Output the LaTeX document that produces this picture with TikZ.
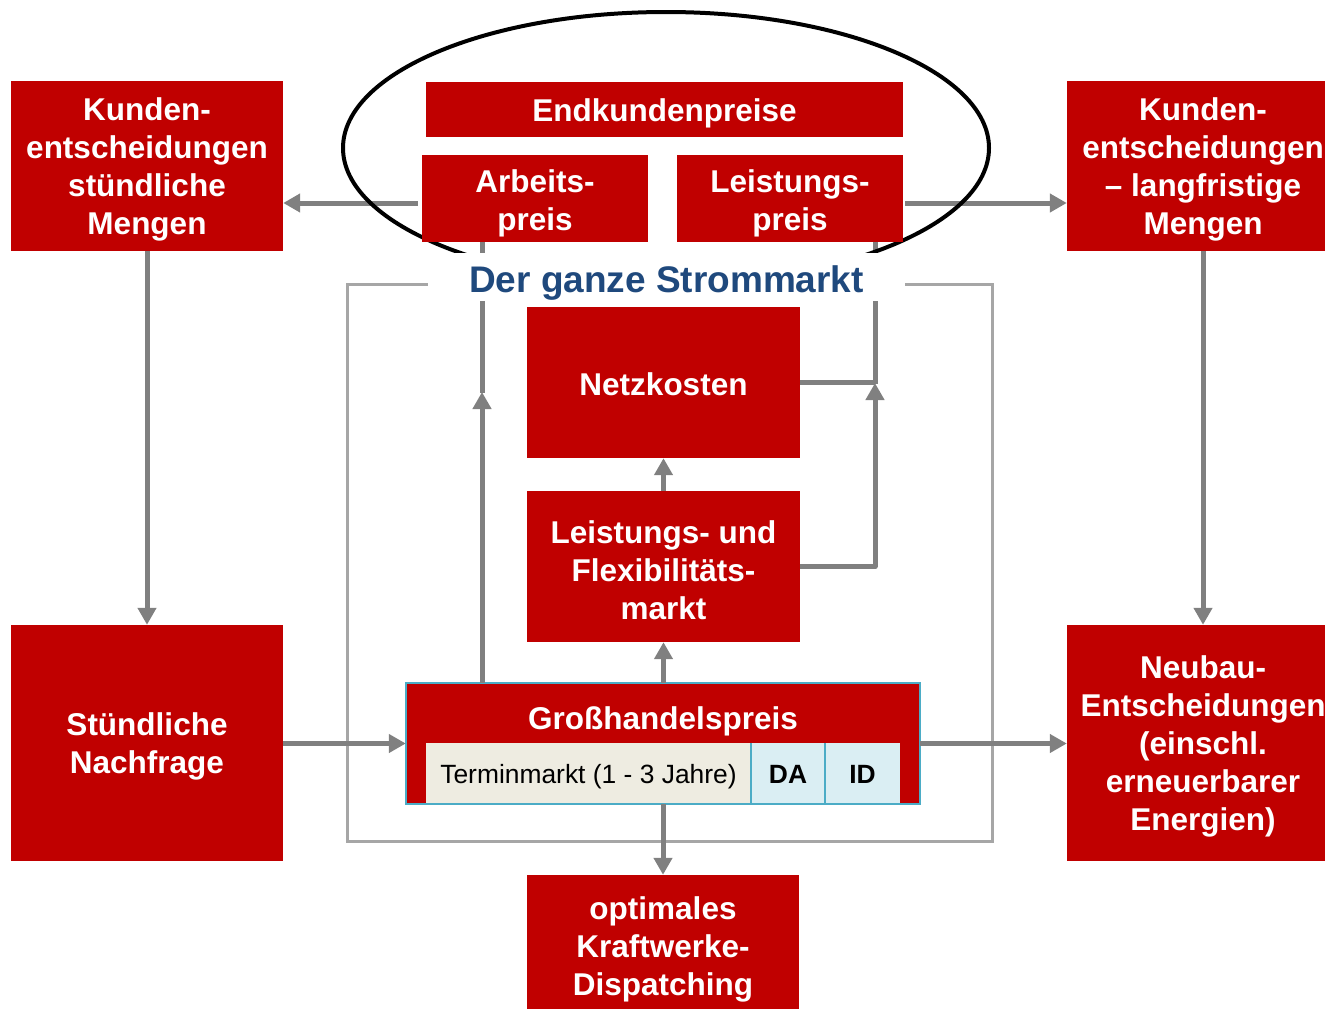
\documentclass[tikz,border=0pt]{standalone}
\usepackage{fontspec}
\setmainfont{Liberation Sans}
\usetikzlibrary{arrows.meta}
\definecolor{boxred}{HTML}{C00000}
\definecolor{arrgray}{HTML}{808080}
\definecolor{rectgray}{HTML}{A6A6A6}
\definecolor{cellblue}{HTML}{DAEEF3}
\definecolor{cellbeige}{HTML}{EEECE1}
\definecolor{bordblue}{HTML}{4BACC6}
\definecolor{titleblue}{HTML}{1F497D}
\tikzset{
  redbox/.style={fill=boxred, inner sep=0pt},
  btxt/.style={text=white, align=center, inner sep=0pt, yshift=-3.5pt,
    font=\fontsize{31.5}{38}\selectfont\bfseries},
  conn/.style={draw=arrgray, line width=5pt},
  arr/.style={conn, -{Triangle[length=17pt,width=18pt]}},
  cell/.style={inner sep=0pt, text=black, text height=19pt, text depth=0pt,
    font=\fontsize{26.4}{30}\selectfont},
}
\begin{document}
\begin{tikzpicture}[x=1pt,y=-1pt]
\useasboundingbox (0,0) rectangle (1325,1009);
\clip (0,0) rectangle (1325,1009);
\fill[white] (0,0) rectangle (1325,1009);

% light gray frame
\draw[rectgray, line width=3pt] (347,284) rectangle (992,841);

% nodes
\node[redbox, minimum width=272pt, minimum height=170pt,
  label={[btxt]center:Kunden-\\entscheidungen\\stündliche\\Mengen}] (kl) at (147,166) {};
\node[redbox, minimum width=272pt, minimum height=170pt,
  label={[btxt]center:Kunden-\\entscheidungen\\– langfristige\\Mengen}] (kr) at (1203,166) {};
\node[redbox, minimum width=272pt, minimum height=236pt,
  label={[btxt]center:Stündliche\\Nachfrage}] (sn) at (147,743) {};
\node[redbox, minimum width=272pt, minimum height=236pt,
  label={[btxt]center:Neubau-\\Entscheidungen\\(einschl.\\erneuerbarer\\Energien)}] (neu) at (1203,743) {};
\node[redbox, minimum width=273pt, minimum height=151pt,
  label={[btxt, yshift=1.5pt]center:Netzkosten}] (netz) at (663.5,382.5) {};
\node[redbox, minimum width=273pt, minimum height=151pt,
  label={[btxt]center:Leistungs- und\\Flexibilitäts-\\markt}] (lf) at (663.5,566.5) {};
\node[redbox, minimum width=272pt, minimum height=142pt,
  label={[btxt]center:optimales\\Kraftwerke-\\Dispatching}] (opt) at (663,946) {};

% Großhandelspreis box
\node[fill=boxred, inner sep=0pt, minimum width=514pt, minimum height=121pt] (gh) at (663,743.5) {};
\node[text=white, inner sep=0pt, font=\fontsize{31.5}{38}\selectfont\bfseries, anchor=base] (ght) at (663,729) {Großhandelspreis};
\node[cell, fill=cellbeige, minimum width=325pt, minimum height=61pt] (tm) at (588.5,773.5) {Terminmarkt (1 - 3 Jahre)};
\node[cell, fill=cellblue, minimum width=74pt, minimum height=61pt, font=\fontsize{26.4}{30}\selectfont\bfseries] (da) at (788,773.5) {DA};
\node[cell, fill=cellblue, minimum width=75pt, minimum height=61pt, font=\fontsize{26.4}{30}\selectfont\bfseries] (id) at (862.5,773.5) {ID};
\draw[bordblue, line width=2pt] (tm.north east) -- (tm.south east);
\draw[bordblue, line width=2pt] (da.north east) -- (da.south east);
\draw[bordblue, line width=2pt] (gh.south west) rectangle (gh.north east);

% connectors
\draw[arr] (kl.south) -- (sn.north);
\draw[arr] (kr.south) -- (neu.north);
\draw[arr] (sn.east |- gh.west) -- (gh.west);
\draw[arr] (gh.east) -- (neu.west |- gh.east);
\draw[arr] (gh.north -| lf.south) -- (lf.south);
\draw[arr] (lf.north) -- (netz.south);
\draw[arr] (gh.south -| opt.north) -- (opt.north);

% top boxes (named placeholders for anchors)
\coordinate (endkc) at (664.5,109.5);
\coordinate (arbc) at (535,198.5);
\coordinate (leisc) at (790,198.5);
\path (arbc) node[minimum width=226pt, minimum height=87pt, inner sep=0pt] (arb) {};
\path (leisc) node[minimum width=226pt, minimum height=87pt, inner sep=0pt] (leis) {};

\draw[arr] ([xshift=-4pt]arb.west |- 0,203) -- (kl.east |- 0,203);
\draw[arr] ([xshift=2pt]leis.east |- 0,203) -- (kr.west |- 0,203);

\coordinate (la) at (482,392);
\draw[arr] (gh.north -| la) -- (la);
\draw[conn] ([yshift=-1pt]la) -- (arb.south -| la);

\coordinate (ra) at (875,383);
\draw[arr, line join=round] (lf.east) -- (lf.east -| ra) -- (ra);
\draw[conn] ([yshift=-1pt]ra) -- (leis.south -| ra);
\draw[conn] (netz.east) -- (netz.east -| ra);

% ellipse
\draw[black, line width=4pt] (666,148) ellipse [x radius=323pt, y radius=136pt];

% top boxes over ellipse
\node[redbox, minimum width=477pt, minimum height=55pt,
  label={[btxt, yshift=-0.5pt]center:Endkundenpreise}] (endk) at (endkc) {};
\node[redbox, minimum width=226pt, minimum height=87pt,
  label={[btxt, yshift=-1.5pt]center:Arbeits-\\preis}] (arbbox) at (arbc) {};
\node[redbox, minimum width=226pt, minimum height=87pt,
  label={[btxt, yshift=-1.5pt]center:Leistungs-\\preis}] (leisbox) at (leisc) {};

% label
\node[fill=white, inner sep=0pt, minimum width=477pt, minimum height=48pt] (lblbg) at (666.5,277) {};
\node[text=titleblue, inner sep=0pt, anchor=base, font=\fontsize{37}{42}\selectfont\bfseries] (lbl) at (666.5,292) {Der ganze Strommarkt};
\end{tikzpicture}
\end{document}
